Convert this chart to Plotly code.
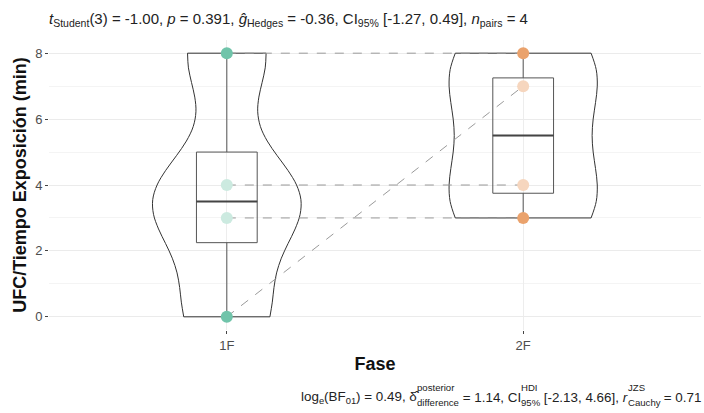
import numpy as np
import plotly.graph_objects as go

# ---- data ----
fases = ["1F", "2F"]
fase_1F = [8, 4, 3, 0]
fase_2F = [8, 4, 3, 7]
ticks_y = [0, 2, 4, 6, 8]

subtitle = ("<i>t</i><sub>Student</sub>(3) = -1.00, <i>p</i> = 0.391, "
            "<i>ĝ</i><sub>Hedges</sub> = -0.36, CI<sub>95%</sub> [-1.27, 0.49], "
            "<i>n</i><sub>pairs</sub> = 4")
# caption pieces: (main text, superscript, subscript)
caption_parts = [
    ("log<sub>e</sub>(BF<sub>01</sub>) = 0.49, δ̂", "posterior", "difference"),
    (" = 1.14, CI", "HDI", "95%"),
    (" [-2.13, 4.66], <i>r</i>", "JZS", "Cauchy"),
    (" = 0.71", None, None),
]

FONT = "Liberation Sans, Arial, sans-serif"
groups = {"1F": fase_1F, "2F": fase_2F}
col_out = {"1F": "rgb(112,196,170)", "2F": "rgb(234,162,108)"}
col_in = {"1F": "rgb(204,234,224)", "2F": "rgb(246,214,190)"}
bws = {"1F": 1.40, "2F": 1.62}

# layout geometry (px)
W, H = 704, 413
ML, MR, MT, MB = 49, 3, 40, 83
PW, PH = W - ML - MR, H - MT - MB


def px2paper(px, py):
    return (px - ML) / PW, (H - MB - py) / PH


# approximate Arial advance widths (per 1000 em) for laying out the caption
AW = {" ": 278, "(": 333, ")": 333, "=": 584, ".": 278, ",": 278, "-": 333, "[": 278,
      "]": 278, "%": 889, "δ": 556, "̂": 0, "B": 667, "F": 611, "C": 722, "I": 278,
      "H": 722, "D": 722, "J": 500, "Z": 611, "S": 667}


def text_em(s, scale=1.0):
    import re
    total = 0.0
    for m in re.finditer(r"<sub>(.*?)</sub>|<sup>(.*?)</sup>|<i>(.*?)</i>|([^<]+)", s):
        if m.group(1) is not None or m.group(2) is not None:
            total += text_em(m.group(1) or m.group(2), scale * 0.7)
        else:
            chunk = m.group(3) if m.group(3) is not None else m.group(4)
            for ch in chunk:
                if ch.isdigit():
                    w = 556
                elif ch in AW:
                    w = AW[ch]
                elif ch in "lij":
                    w = 222
                elif ch in "ftI":
                    w = 278
                elif ch == "r":
                    w = 333
                elif ch in "scyzJ":
                    w = 500
                else:
                    w = 556
                total += w * scale / 1000.0
    return total


CAP = 13.4
SCR = 9.6
cap_font = dict(family=FONT, size=CAP, color="#222222")
scr_font = dict(family=FONT, size=SCR, color="#222222")

widths = []
for txt, sup, sub in caption_parts:
    wm = text_em(txt) * CAP
    ws = max(text_em(sup), text_em(sub)) * SCR if sup else 0
    widths.append((wm, ws))
total = sum(a + b for a, b in widths)
cur = 700 - total

annotations = []
for (txt, sup, sub), (wm, ws) in zip(caption_parts, widths):
    x, y = px2paper(cur, 397)
    annotations.append(dict(text=txt, xref="paper", yref="paper", x=x, y=y,
                            xanchor="left", yanchor="middle", showarrow=False,
                            font=cap_font, borderpad=0))
    cur += wm
    if sup is not None:
        xs, ys = px2paper(cur + 0.5, 387)
        annotations.append(dict(text=sup, xref="paper", yref="paper", x=xs, y=ys,
                                xanchor="left", yanchor="middle", showarrow=False,
                                font=scr_font, borderpad=0))
        xs, ys = px2paper(cur + 0.5, 402)
        annotations.append(dict(text=sub, xref="paper", yref="paper", x=xs, y=ys,
                                xanchor="left", yanchor="middle", showarrow=False,
                                font=scr_font, borderpad=0))
        cur += ws

fig = go.Figure()

# violins
for f in fases:
    fig.add_trace(go.Violin(
        x=[f] * len(groups[f]), y=groups[f], name=f, width=0.5,
        spanmode="hard", scalemode="width", bandwidth=bws[f],
        fillcolor="rgba(255,255,255,0)", line=dict(color="#333333", width=1),
        points=False, box_visible=False, meanline_visible=False,
        showlegend=False, hoverinfo="skip"))

# boxes
shapes = []
for i, f in enumerate(fases):
    v = np.array(groups[f], dtype=float)
    q1, med, q3 = np.percentile(v, [25, 50, 75])
    iqr = q3 - q1
    lo = v[v >= q1 - 1.5 * iqr].min()
    hi = v[v <= q3 + 1.5 * iqr].max()
    fig.add_trace(go.Box(
        x=[f], q1=[q1], median=[med], q3=[q3], lowerfence=[lo], upperfence=[hi],
        width=0.205, whiskerwidth=0, fillcolor="rgba(255,255,255,0)",
        line=dict(color="#555555", width=1), showlegend=False, hoverinfo="skip"))
    shapes.append(dict(type="line", xref="x", yref="y", x0=i - 0.1025, x1=i + 0.1025,
                       y0=med, y1=med, line=dict(color="#444444", width=2), layer="above"))

# paired dashed lines
for a, b in zip(fase_1F, fase_2F):
    fig.add_trace(go.Scatter(
        x=fases, y=[a, b], mode="lines",
        line=dict(color="#9a9a9a", width=1, dash="dash"),
        showlegend=False, hoverinfo="skip"))

# points
for f in fases:
    v = np.array(groups[f], dtype=float)
    q1, q3 = np.percentile(v, [25, 75])
    cols = [col_in[f] if q1 <= y <= q3 else col_out[f] for y in v]
    fig.add_trace(go.Scatter(
        x=[f] * len(v), y=v, mode="markers",
        marker=dict(size=12, color=cols, line=dict(width=0)),
        showlegend=False, hoverinfo="skip"))

fig.update_layout(
    width=W, height=H,
    margin=dict(l=ML, r=MR, t=MT, b=MB),
    paper_bgcolor="white", plot_bgcolor="white",
    font=dict(family=FONT, size=13, color="#4d4d4d"),
    violinmode="overlay", boxmode="overlay",
    title=dict(text=subtitle, x=0, xanchor="left", xref="paper",
               y=1 - 19 / H, yanchor="middle", yref="container",
               font=dict(family=FONT, size=15, color="#222222")),
    annotations=annotations,
    shapes=shapes,
)
fig.update_xaxes(
    type="category", categoryorder="array", categoryarray=fases,
    range=[-0.6, 1.6], showgrid=True, gridcolor="#ededed", gridwidth=1,
    zeroline=False, showline=False,
    ticks="outside", ticklen=3, tickcolor="#444444", tickwidth=1,
    tickfont=dict(family=FONT, size=13, color="#4d4d4d"),
    title=dict(text="<b>Fase</b>", font=dict(family=FONT, size=18, color="#111111"), standoff=5),
)
fig.update_yaxes(
    range=[-0.4, 8.4], tickvals=ticks_y, showgrid=True, gridcolor="#ebebeb", gridwidth=1,
    minor=dict(dtick=1, tick0=0, showgrid=True, gridcolor="#f4f4f4", gridwidth=1),
    zeroline=False, showline=False,
    ticks="outside", ticklen=3, tickcolor="#444444", tickwidth=1,
    tickfont=dict(family=FONT, size=13, color="#4d4d4d"),
    title=dict(text="<b>UFC/Tiempo Exposición (min)</b>",
               font=dict(family=FONT, size=18, color="#111111"), standoff=3),
)

fig.write_html("out.html")
